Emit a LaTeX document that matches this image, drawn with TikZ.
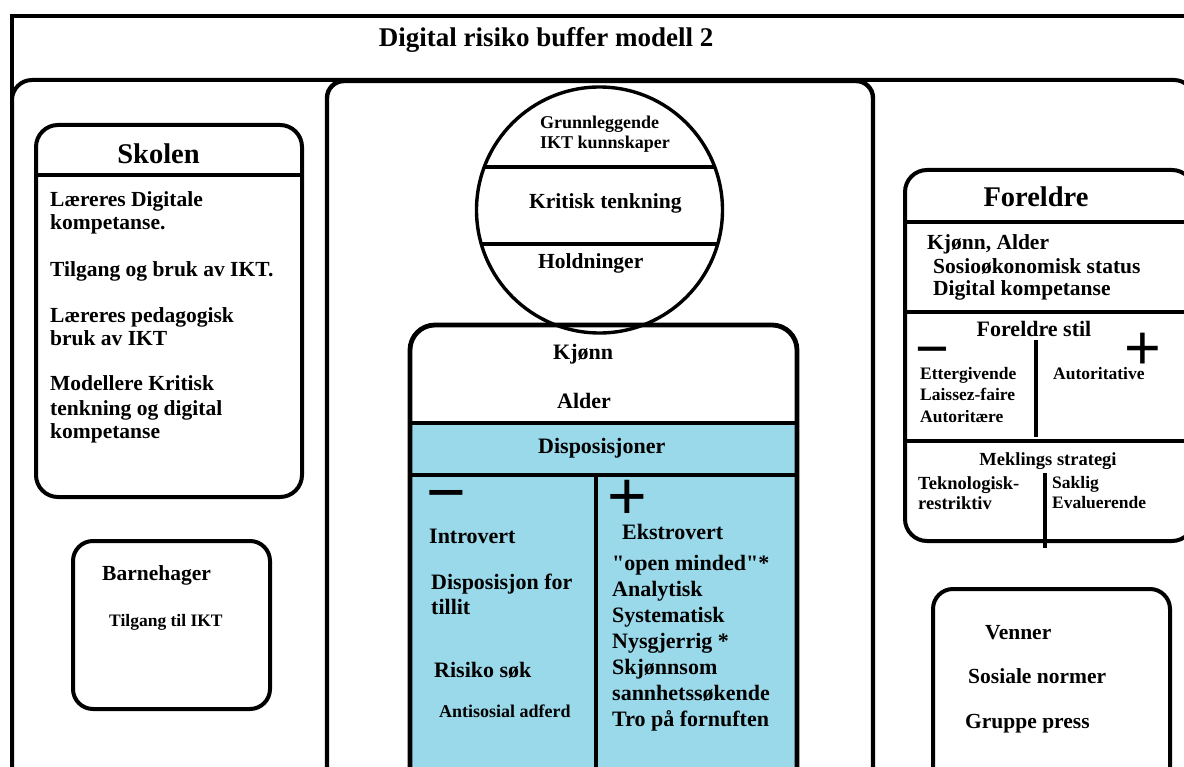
\documentclass[tikz,border=0pt]{standalone}
\usepackage{fontspec}
\setmainfont{Liberation Serif}
\newfontfamily\plainserif{Liberation Serif}[Ligatures=TeXOff]
\newfontfamily\symfont{Liberation Sans}
\definecolor{dispblue}{RGB}{153,217,234}
\begin{document}
\begin{tikzpicture}[x=1pt,y=-1pt,
  frame/.style={draw=black,line width=4pt},
  sepline/.style={draw=black,line width=3.4pt},
  lbl/.style={inner sep=0pt,anchor=base west,font=\bfseries\fontsize{#1}{#1}\selectfont},
  lbl/.default=21.5,
  clbl/.style={inner sep=0pt,anchor=base,font=\bfseries\fontsize{#1}{#1}\selectfont},
  clbl/.default=21.5,
  plussym/.style={inner sep=0pt,anchor=base,text height=0.48em,text depth=0pt,font=\symfont\fontsize{#1}{#1}\selectfont},
  minussym/.style={inner sep=0pt,anchor=base,text height=0.12em,text depth=0pt,font=\symfont\fontsize{#1}{#1}\selectfont}]
\useasboundingbox (0,0) rectangle (1184,767);
\clip (0,0) rectangle (1184,767);
\fill[white] (0,0) rectangle (1184,767);

% outer frames
\draw[frame] (12,800) -- (12,16) -- (1200,16);
\draw[frame,rounded corners=20pt] (12,800) -- (12,80) -- (1194,80) -- (1194,800);
\node[clbl=27] (title) at (546,47) {Digital risiko buffer modell 2};

% central panel
\draw[frame,line width=4.4pt,rounded corners=17pt] (327,800) -- (327,81) -- (873,81) -- (873,800);

% circle
\node[circle,draw,line width=3.4pt,minimum size=246pt,inner sep=0pt] (kompetanse) at (599.5,210) {};
\begin{scope}
  \clip (599.5,210) circle[radius=123pt];
  \draw[sepline] (470,167) -- (730,167);
  \draw[sepline] (470,244) -- (730,244);
\end{scope}
\node[lbl=18] (grunn1) at (540,129) {Grunnleggende};
\node[lbl=18] (grunn2) at (540,149) {IKT kunnskaper};
\node[lbl=21.5] (kritisk) at (529,209) {Kritisk tenkning};
\node[lbl=21.5] (holdn) at (538,269) {Holdninger};

% individual box
\fill[dispblue] (410,423) rectangle (797,800);
\draw[line width=4.8pt,rounded corners=25pt] (410,800) -- (410,325) -- (797,325) -- (797,800);
\draw[line width=4.8pt] (410,423) -- (797,423);
\draw[line width=3.6pt] (410,475) -- (797,475);
\draw[line width=4.6pt] (596,475) -- (596,800);
\node[lbl=22] (kjonn) at (553,360) {Kjønn};
\node[lbl=22] (alder) at (557,408) {Alder};
\node[lbl=22] (dispo) at (538,453) {Disposisjoner};
\node[minussym=68] (minusA) at (446,496) {\raisebox{-0.28em}{−}};
\node[plussym=68] (plusA) at (627,512.5) {\raisebox{-0.11em}{+}};
\node[lbl=22] (introvert) at (429,543) {Introvert};
\node[lbl=22] (tillit1) at (431,589) {Disposisjon for};
\node[lbl=22] (tillit2) at (431,614) {tillit};
\node[lbl=22] (risiko) at (434,677) {Risiko søk};
\node[lbl=18] (antisos) at (439,717) {Antisosial adferd};
\node[lbl=22] (ekstro) at (622,539) {Ekstrovert};
\node[lbl=22] (open) at (612,570) {\plainserif\bfseries "open minded"*};
\node[lbl=22] (analyt) at (612,596) {Analytisk};
\node[lbl=22] (system) at (612,622) {Systematisk};
\node[lbl=22] (nysg) at (612,648) {Nysgjerrig *};
\node[lbl=22] (skjonn) at (612,674) {Skjønnsom};
\node[lbl=22] (sannhet) at (612,700) {sannhetssøkende};
\node[lbl=22] (tro) at (612,726) {Tro på fornuften};

% Skolen
\draw[frame,rounded corners=22pt] (36,125) rectangle (302,497);
\draw[sepline] (36,175) -- (302,175);
\node[clbl=28.5] (skolen) at (158.5,164) {Skolen};
\node[lbl] (s1) at (50,207) {Læreres Digitale};
\node[lbl] (s2) at (50,230) {kompetanse.};
\node[lbl] (s3) at (50,277) {Tilgang og bruk av IKT.};
\node[lbl] (s4) at (50,323) {Læreres pedagogisk};
\node[lbl] (s5) at (50,346) {bruk av IKT};
\node[lbl] (s6) at (50,391) {Modellere Kritisk};
\node[lbl] (s7) at (50,415) {tenkning og digital};
\node[lbl] (s8) at (50,438) {kompetanse};

% Barnehager
\draw[frame,rounded corners=20pt] (73,541) rectangle (270,709);
\node[lbl] (barn) at (102,580) {Barnehager};
\node[lbl=17.5] (barn2) at (109,626) {Tilgang til IKT};

% Foreldre
\draw[frame,rounded corners=22pt] (905,170) rectangle (1194,541);
\draw[sepline] (905,222) -- (1194,222);
\draw[sepline] (905,312) -- (1194,312);
\draw[sepline] (905,441) -- (1194,441);
\draw[frame] (1036,340) -- (1036,437);
\draw[frame] (1045,473) -- (1045,548);
\node[clbl=28.5] (foreldre) at (1036,207) {Foreldre};
\node[lbl] (f1) at (927,250) {Kjønn, Alder};
\node[lbl] (f2) at (933,274) {Sosioøkonomisk status};
\node[lbl] (f3) at (933,296) {Digital kompetanse};
\node[clbl=22] (stil) at (1034,337) {Foreldre stil};
\node[minussym=58] (minusB) at (932,352) {\raisebox{-0.28em}{−}};
\node[plussym=63] (plusB) at (1143,363) {\raisebox{-0.11em}{+}};
\node[lbl=17.5] (e1) at (920,380) {Ettergivende};
\node[lbl=17.5] (e2) at (920,401) {Laissez-faire};
\node[lbl=17.5] (e3) at (920,422) {Autoritære};
\node[lbl=17.5] (aut) at (1053,380) {Autoritative};
\node[clbl=18.5] (mekl) at (1048,465) {Meklings strategi};
\node[lbl=18.5] (tek1) at (918,489) {Teknologisk-};
\node[lbl=18.5] (tek2) at (918,509) {restriktiv};
\node[lbl=17.5] (sak1) at (1052,488) {Saklig};
\node[lbl=17.5] (sak2) at (1052,508) {Evaluerende};

% Venner
\draw[frame,rounded corners=20pt] (933,800) -- (933,589) -- (1170,589) -- (1170,800);
\node[lbl] (venner) at (985,639) {Venner};
\node[lbl] (v1) at (968,683) {Sosiale normer};
\node[lbl] (v2) at (965,728) {Gruppe press};
\end{tikzpicture}
\end{document}
